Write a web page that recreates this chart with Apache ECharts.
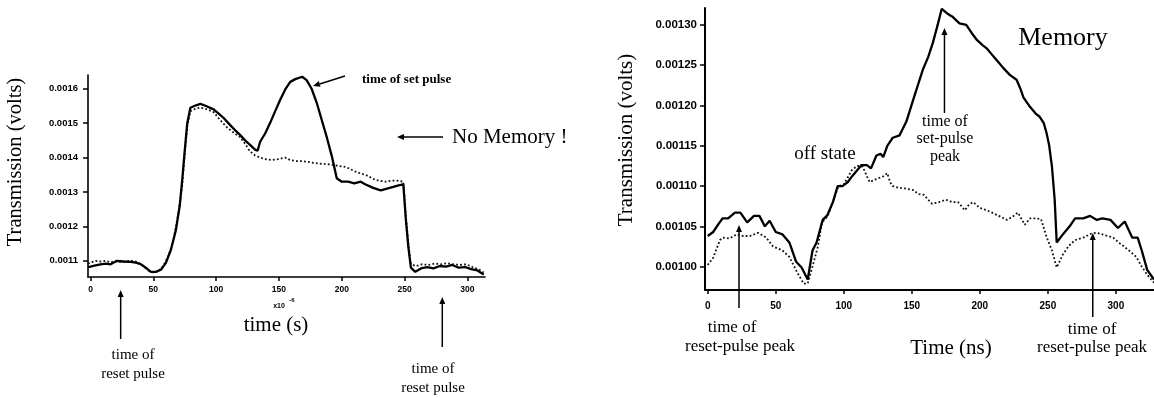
<!DOCTYPE html>
<html>
<head>
<meta charset="utf-8">
<script src="https://cdn.jsdelivr.net/npm/echarts@6/dist/echarts.min.js"></script>
<style>
  html, body { margin: 0; padding: 0; background: #fff; }
  #chart { width: 1154px; height: 398px; }
</style>
</head>
<body>
<div id="chart"></div>
<script>
// left panel: no memory (time in 1e-6 s)
const leftSolid = [
  [-2, 0.001082], [0, 0.001083], [4, 0.001087], [8, 0.00109], [12, 0.001092], [16, 0.00109],
  [21, 0.0011], [26, 0.001098], [32, 0.001097], [36, 0.001095], [40, 0.00109], [44, 0.00108],
  [48, 0.001068], [52, 0.001068], [56, 0.001074], [60, 0.001094], [64, 0.001132], [68, 0.00119],
  [71, 0.00126], [73, 0.001335], [75, 0.00142], [77, 0.0015], [79.5, 0.001545], [84, 0.001552],
  [87.5, 0.001556], [92, 0.00155], [98, 0.00154], [102, 0.001528], [106, 0.001515], [111, 0.001495],
  [115, 0.00148], [119, 0.001466], [123, 0.00145], [127, 0.001437], [131, 0.001423], [133, 0.00142],
  [135, 0.001446], [139, 0.00147], [143, 0.001501], [147, 0.001535], [151, 0.001568], [155, 0.001598],
  [159, 0.00162], [163, 0.001628], [168.5, 0.001635], [172, 0.001625], [176, 0.0016], [180, 0.00156],
  [184, 0.00151], [188, 0.00146], [192, 0.001405], [196, 0.00134], [200, 0.00133], [205, 0.00133],
  [210, 0.001325], [215, 0.00133], [219, 0.001322], [225, 0.001312], [231, 0.001305], [236, 0.00131],
  [241, 0.001315], [246, 0.00132], [249, 0.001322], [251, 0.00122], [253, 0.00114], [255, 0.00108],
  [258.5, 0.001068], [263, 0.001078], [268, 0.001082], [273, 0.001078], [278, 0.001085], [283, 0.001083],
  [288, 0.001088], [293, 0.00108], [298, 0.001082], [303, 0.001076], [308, 0.001072], [313, 0.00106]
];
const leftDotted = [
  [-2, 0.001092], [0, 0.001095], [4, 0.0011], [8, 0.001098], [12, 0.0011], [16, 0.001096],
  [20, 0.001098], [24, 0.001097], [28, 0.001099], [34, 0.0011], [38, 0.001096], [42, 0.001085],
  [46, 0.001072], [50, 0.001066], [54, 0.00107], [58, 0.001085], [62, 0.001115], [66, 0.00116],
  [70, 0.00124], [73, 0.00132], [75, 0.00141], [77, 0.00149], [79.5, 0.001535], [84, 0.001543],
  [88, 0.001545], [93, 0.00154], [98, 0.001532], [103, 0.00151], [108, 0.00149], [114, 0.001472],
  [119, 0.00146], [123, 0.00144], [127, 0.001418], [131, 0.001406], [135, 0.0014], [140, 0.001395],
  [145, 0.001393], [150, 0.001396], [155, 0.0014], [159, 0.001393], [163, 0.00139], [167, 0.00139],
  [172, 0.001388], [177, 0.001385], [184, 0.001382], [191, 0.00138], [197, 0.001376], [203, 0.001373],
  [207, 0.001366], [211, 0.001359], [215, 0.001354], [219, 0.00135], [223, 0.001342], [227, 0.001335],
  [231, 0.001332], [235, 0.00133], [240, 0.001333], [244, 0.001333], [249, 0.00133], [251, 0.00123],
  [253, 0.00115], [255, 0.00109], [259, 0.001085], [264, 0.00109], [269, 0.001088], [274, 0.001092],
  [279, 0.00109], [284, 0.001093], [289, 0.00109], [294, 0.001088], [299, 0.00109], [304, 0.001082],
  [309, 0.001075], [313, 0.001066]
];
const leftXTicks = [0, 50, 100, 150, 200, 250, 300];
const leftYTicks = [0.0011, 0.0012, 0.0013, 0.0014, 0.0015, 0.0016];

// right panel: memory (time in ns)
const rightSolid = [
  [0, 0.001038], [4, 0.001043], [8, 0.001053], [11, 0.00106], [15, 0.00106], [20, 0.001067],
  [24, 0.001067], [29, 0.001055], [34, 0.001063], [38, 0.001063], [42, 0.00105], [45.5, 0.001057],
  [50, 0.001043], [55, 0.00104], [60, 0.00103], [65, 0.001006], [69, 0.000999], [73.5, 0.000984],
  [77, 0.00102], [80, 0.00103], [84.5, 0.001058], [88, 0.001064], [92, 0.00108], [95.5, 0.0011],
  [99, 0.0011], [103, 0.001105], [106, 0.001112], [110, 0.00112], [113, 0.001126], [117, 0.001126],
  [120, 0.001122], [124, 0.001138], [127, 0.00114], [129, 0.001136], [132, 0.00115], [136, 0.00116],
  [141, 0.001163], [146, 0.00118], [151, 0.001207], [155, 0.001228], [158, 0.001244], [162, 0.00126],
  [165.5, 0.001278], [169, 0.0013], [172, 0.00132], [175.5, 0.001315], [178, 0.001312], [180, 0.00131],
  [185, 0.001302], [190, 0.0013], [194, 0.00129], [198, 0.001281], [202, 0.001275], [205, 0.001271],
  [208, 0.001265], [211, 0.001259], [214, 0.001253], [217, 0.001247], [222, 0.001238], [227, 0.001232],
  [230, 0.00122], [232, 0.00121], [237, 0.001198], [241, 0.00119], [244, 0.001186], [247, 0.001178],
  [249, 0.001166], [251, 0.00115], [253, 0.001124], [255, 0.001083], [256.5, 0.00103], [261, 0.00104],
  [266, 0.00105], [270, 0.00106], [276, 0.00106], [281, 0.001063], [286, 0.001058], [290, 0.00106],
  [296, 0.001058], [301.5, 0.001048], [306.5, 0.001056], [312, 0.001036], [316, 0.001036], [319, 0.00102],
  [323, 0.000996], [328, 0.000984]
];
const rightDotted = [
  [0, 0.001002], [4, 0.001011], [9, 0.001033], [11, 0.001036], [16, 0.001035], [21, 0.00104],
  [26, 0.001038], [31, 0.001038], [37, 0.001042], [43, 0.001036], [48, 0.001025], [55, 0.00102],
  [60, 0.001012], [66, 0.000992], [70.5, 0.000979], [73.5, 0.000979], [77, 0.001], [81, 0.001025],
  [84, 0.001055], [88, 0.001062], [92, 0.00108], [96, 0.0011], [100, 0.001102], [102, 0.001108],
  [106, 0.00112], [110, 0.001125], [114, 0.001124], [117, 0.001112], [119, 0.001105], [123, 0.001108],
  [126, 0.00111], [129, 0.001112], [132, 0.001116], [134, 0.001105], [136, 0.0011], [140, 0.001098],
  [145, 0.001097], [151, 0.001095], [155, 0.00109], [159, 0.001089], [162, 0.001083], [165, 0.001078],
  [170, 0.00108], [175, 0.001083], [180, 0.00108], [184, 0.00108], [189, 0.00107], [192, 0.001077],
  [195, 0.00108], [200, 0.001073], [205, 0.00107], [209, 0.001067], [214, 0.001063], [220, 0.001058],
  [224, 0.001062], [228, 0.001067], [233, 0.001052], [237, 0.00106], [241, 0.00106], [245, 0.001059],
  [249, 0.001037], [253, 0.00102], [256.5, 0.000999], [261, 0.001015], [265, 0.001025], [270, 0.001033],
  [276, 0.001036], [282, 0.001041], [286, 0.001042], [290, 0.00104], [294, 0.001038], [298, 0.001036],
  [302, 0.00103], [306, 0.001025], [311, 0.001018], [315, 0.001012], [319, 0.001], [323, 0.00099],
  [328, 0.00098]
];
const rightXTicks = [0, 50, 100, 150, 200, 250, 300];
const rightYTicks = [0.001, 0.00105, 0.0011, 0.00115, 0.0012, 0.00125, 0.0013];

const serif = '"Liberation Serif", "DejaVu Serif", serif';
const sans = '"Liberation Sans", Arial, sans-serif';

function xAxisOf(grid, min, max, ticks, size, margin) {
  return {
    type: 'value', gridIndex: grid, min, max,
    axisLine: { show: true, onZero: false, lineStyle: { color: '#000', width: grid ? 2 : 1.6 } },
    axisTick: { show: true, length: 4, customValues: ticks, lineStyle: { color: '#000', width: 1.5 } },
    axisLabel: { customValues: ticks, color: '#000', fontFamily: sans, fontWeight: 'bold', fontSize: size, margin },
    splitLine: { show: false }
  };
}
function yAxisOf(grid, min, max, ticks, size, digits, margin) {
  return {
    type: 'value', gridIndex: grid, min, max,
    axisLine: { show: true, onZero: false, lineStyle: { color: '#000', width: grid ? 2 : 1.6 } },
    axisTick: { show: true, length: 5, customValues: ticks, lineStyle: { color: '#000', width: 1.5 } },
    axisLabel: { customValues: ticks, color: '#000', fontFamily: sans, fontWeight: 'bold', fontSize: size, margin,
      formatter: v => v.toFixed(digits) },
    splitLine: { show: false }
  };
}
function line(data, grid, dotted) {
  return {
    type: 'line', xAxisIndex: grid, yAxisIndex: grid, data, symbol: 'none', silent: true,
    lineStyle: dotted ? { color: '#111', width: 1.8, type: [1.8, 2.2] } : { color: '#000', width: 2.3 }
  };
}

const chart = echarts.init(document.getElementById('chart'));
chart.setOption({
  animation: false,
  backgroundColor: '#fff',
  grid: [
    { left: 88, top: 75, width: 397, height: 202 },
    { left: 705, top: 8, width: 449, height: 282 }
  ],
  xAxis: [xAxisOf(0, -2, 314, leftXTicks, 8.5, 8), xAxisOf(1, -2, 328, rightXTicks, 10, 11)],
  yAxis: [yAxisOf(0, 0.001053, 0.00164, leftYTicks, 9.5, 4, 10), yAxisOf(1, 0.000971, 0.001321, rightYTicks, 11.5, 5, 8)],
  series: [line(leftDotted, 0, true), line(leftSolid, 0, false), line(rightDotted, 1, true), line(rightSolid, 1, false)]
});

// annotation helpers
function text(str, x, y, size, opts) {
  return Object.assign({
    type: 'text', x, y,
    style: { text: str, font: size + 'px ' + serif, fill: '#000', align: 'center', verticalAlign: 'middle' }
  }, opts || {});
}
function arrow(x1, y1, x2, y2) {
  const a = Math.atan2(y2 - y1, x2 - x1), L = 7, W = 3;
  const bx = x2 - L * Math.cos(a), by = y2 - L * Math.sin(a);
  return [
    { type: 'line', shape: { x1, y1, x2: bx, y2: by }, style: { stroke: '#000', lineWidth: 1.5 } },
    { type: 'polygon', shape: { points: [[x2, y2],
      [bx + W * Math.sin(a), by - W * Math.cos(a)], [bx - W * Math.sin(a), by + W * Math.cos(a)]] },
      style: { fill: '#000' } }
  ];
}
const px = (g, t) => chart.convertToPixel({ xAxisIndex: g }, t);

const rot = Math.PI / 2;
const els = [
  text('Transmission (volts)', 16, 162, 20.5, { rotation: rot }),
  text('time (s)', 276, 325, 21),
  text('x10', 279, 306, 7, { style: { text: 'x10', font: 'bold 7px ' + sans, fill: '#000', align: 'center', verticalAlign: 'middle' } }),
  text('-6', 292, 300, 6, { style: { text: '-6', font: 'bold 6px ' + sans, fill: '#000', align: 'center', verticalAlign: 'middle' } }),
  text('time of', 133, 355, 15), text('reset pulse', 133, 374, 15),
  text('time of', 433, 369, 15), text('reset pulse', 433, 388, 15),
  text('time of set pulse', 362, 80, 14, { style: { text: 'time of set pulse', font: 'bold 13px ' + serif, fill: '#000', align: 'left', verticalAlign: 'middle' } }),
  text('No Memory !', 452, 137, 21, { style: { text: 'No Memory !', font: '21px ' + serif, fill: '#000', align: 'left', verticalAlign: 'middle' } }),
  ...arrow(px(0, 24), 339, px(0, 24), 290),
  ...arrow(px(0, 280), 347, px(0, 280), 297),
  ...arrow(345, 76, 313, 86),
  ...arrow(443, 137, 397, 137),

  text('Transmission (volts)', 626, 140, 21, { rotation: rot }),
  text('off state', 825, 154, 19),
  text('Memory', 1063, 38, 26),
  text('time of', 945, 122, 16), text('set-pulse', 945, 139, 16), text('peak', 945, 157, 16),
  text('time of', 732, 328, 17), text('reset-pulse peak', 740, 347, 17),
  text('time of', 1092, 330, 17), text('reset-pulse peak', 1092, 348, 17),
  text('Time (ns)', 951, 348, 21),
  ...arrow(px(1, 174), 113, px(1, 174), 28),
  ...arrow(px(1, 23), 308, px(1, 23), 225),
  ...arrow(px(1, 283), 317, px(1, 283), 233)
];
chart.setOption({ graphic: { elements: els } });
</script>
</body>
</html>
